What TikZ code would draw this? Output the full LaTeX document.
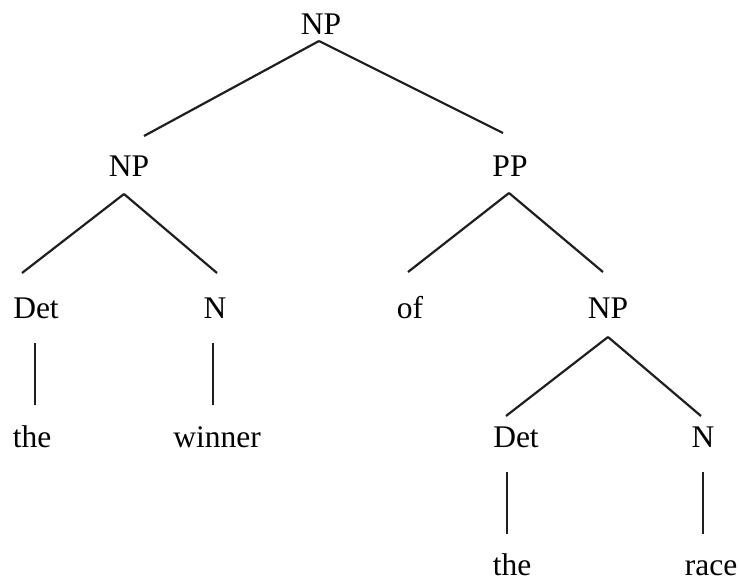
\documentclass[tikz,border=0pt]{standalone}
\usepackage{fontspec}
\setmainfont{Liberation Serif}
% branch from one node to another, each end given as an offset from the node's baseline
\newcommand\branch[6]{\draw[branchline] ([xshift=#2pt,yshift=#3pt]#1.base) -- ([xshift=#5pt,yshift=#6pt]#4.base);}
\begin{document}
\begin{tikzpicture}[x=1pt,y=-1pt,
  label/.style={inner sep=0pt, anchor=base, font=\fontsize{31.5}{38}\selectfont},
  branchline/.style={line width=2.2pt, draw=black!88}]
\useasboundingbox (0,0) rectangle (739,581);
% categories and words
\node[label] (np0)    at (321,34)  {NP};
\node[label] (np1)    at (129,176) {NP};
\node[label] (pp)     at (510,176) {PP};
\node[label] (det1)   at (36,318)  {Det};
\node[label] (n1)     at (215,318) {N};
\node[label] (of)     at (410,318) {of};
\node[label] (np2)    at (608,318) {NP};
\node[label] (the1)   at (32,447)  {the};
\node[label] (winner) at (217,447) {winner};
\node[label] (det2)   at (516,447) {Det};
\node[label] (n2)     at (703,447) {N};
\node[label] (the2)   at (512,575) {the};
\node[label] (race)   at (711,575) {race};
% branches
\branch{np0}{-2}{-7}{np1}{15}{40}
\branch{np0}{-2}{-7}{pp}{-7}{43}
\branch{np1}{-5}{-18}{det1}{-14}{45}
\branch{np1}{-5}{-18}{n1}{2}{45}
\branch{pp}{-1}{-17}{of}{-2}{46}
\branch{pp}{-1}{-17}{np2}{-5}{46}
\branch{det1}{-1}{-25}{the1}{3}{42}
\branch{n1}{-2}{-25}{winner}{-4}{42}
\branch{np2}{0}{-19}{det2}{-10}{31}
\branch{np2}{0}{-19}{n2}{-2}{31}
\branch{det2}{-9}{-25}{the2}{-5}{41}
\branch{n2}{0}{-25}{race}{-8}{41}
\end{tikzpicture}
\end{document}
